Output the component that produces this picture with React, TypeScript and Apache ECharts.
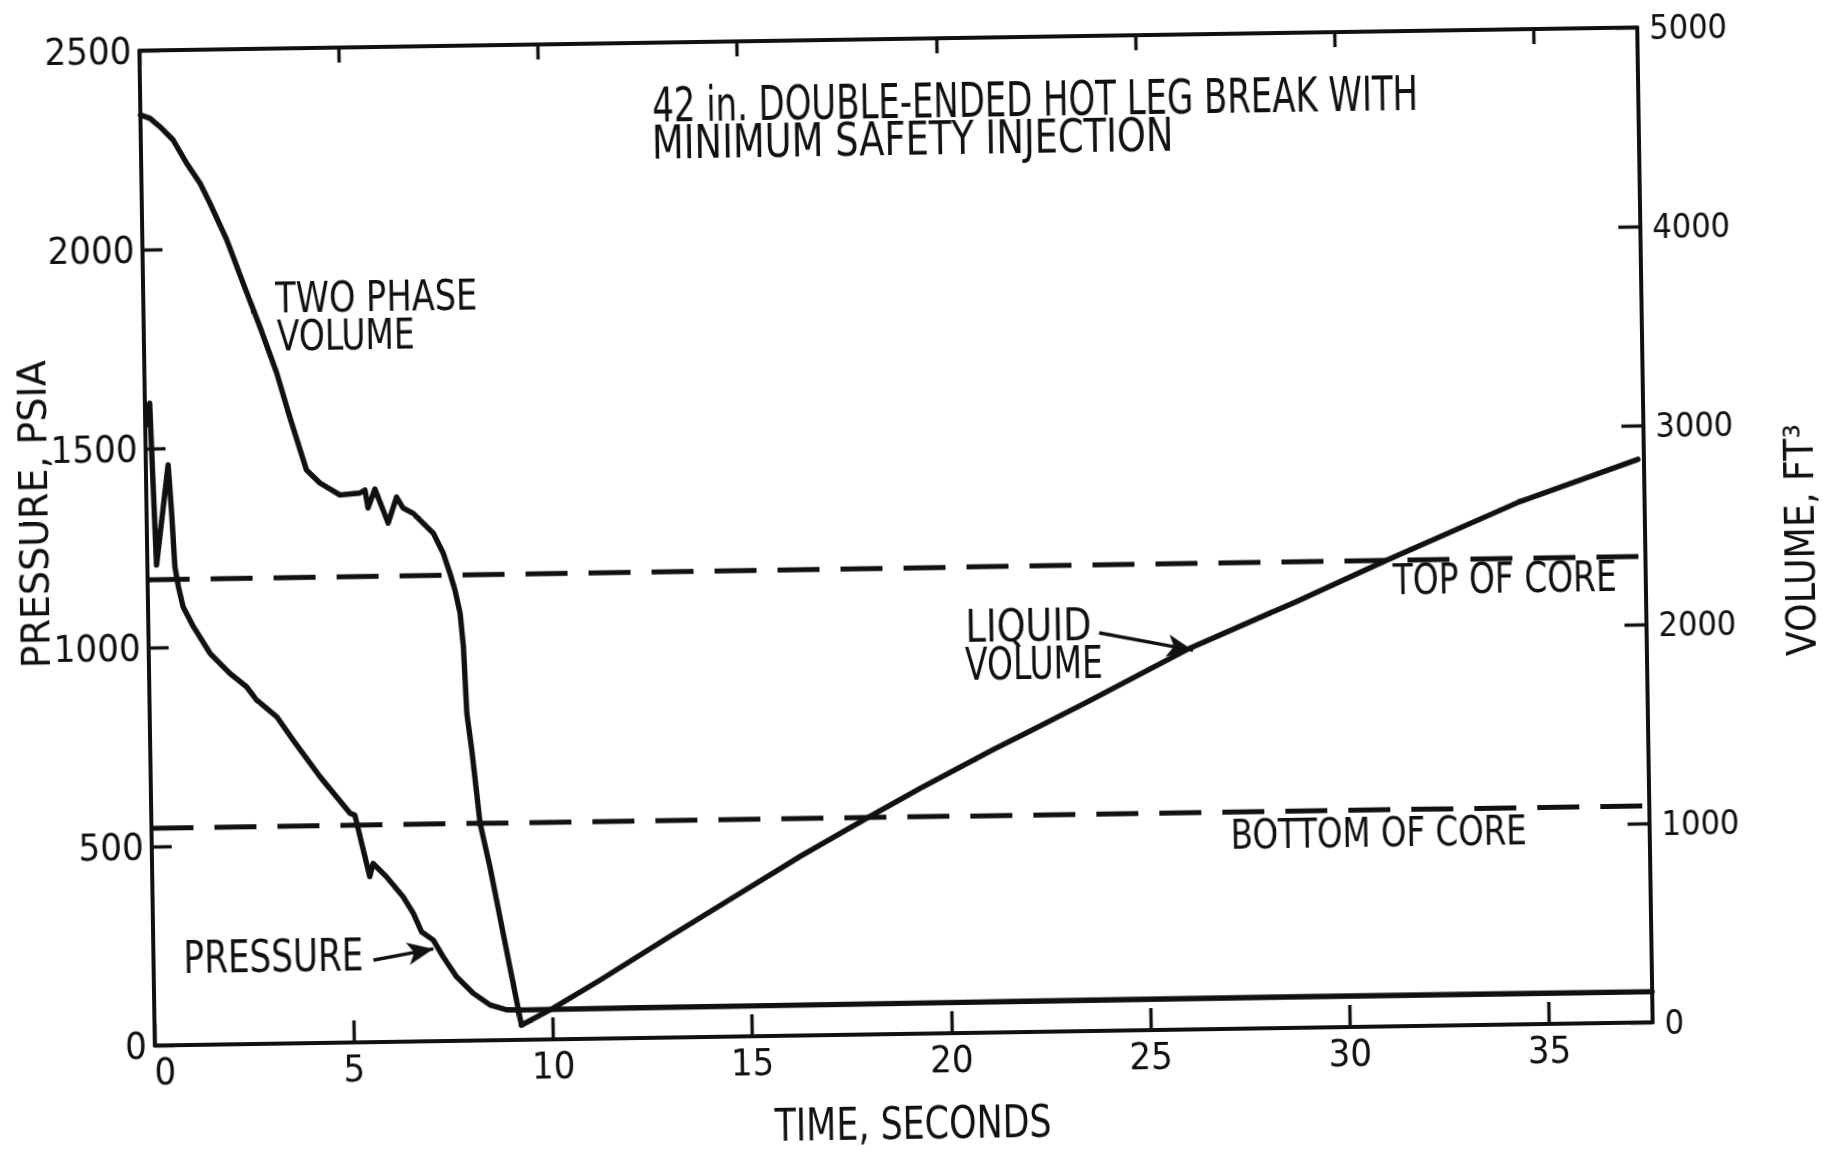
import React, { useEffect, useRef } from "react";
import * as echarts from "echarts";

const INK = "#111";
const FONT = "'DejaVu Sans Condensed', 'Liberation Sans Narrow', 'DejaVu Sans', sans-serif";
const TICK_FONT = "'Liberation Sans Narrow', 'DejaVu Sans Condensed', 'DejaVu Sans', sans-serif";

// axes
const TIME_MIN = 0;
const TIME_MAX = 37.6;
const TIME_TICKS = [0, 5, 10, 15, 20, 25, 30, 35];
const PRESSURE_MAX = 2500;
const PRESSURE_STEP = 500;
const VOLUME_MAX = 5000;
const VOLUME_STEP = 1000;

// pressure, psia (left axis)
const PRESSURE_T = [0.04, 0.12, 0.23, 0.56, 0.63, 0.69, 0.77, 0.88, 1.13, 1.54, 2.03, 2.44, 2.69, 3.19, 3.59, 4.25, 4.99, 5.11, 5.46, 5.55, 5.88, 6.29, 6.54, 6.74, 7.03, 7.27, 7.6, 8.01, 8.43, 8.84, 9.26, 12, 20, 28.8, 37.6];
const PRESSURE_PSIA = [1560, 1614, 1207, 1458, 1336, 1202, 1152, 1101, 1051, 983, 932, 898, 864, 821, 762, 669, 576, 571, 416, 449, 415, 364, 322, 275, 254, 212, 161, 119, 89, 76, 75, 76, 77, 78, 77];

// two phase volume, ft3 (right axis)
const TWO_PHASE_T = [0, 0.24, 0.48, 0.81, 1.14, 1.47, 1.71, 2.12, 2.51, 2.92, 3.32, 3.63, 4.03, 4.36, 4.86, 5.36, 5.49, 5.56, 5.74, 6.06, 6.28, 6.44, 6.69, 7.19, 7.43, 7.59, 7.71, 7.83, 7.9, 7.96, 8.07, 8.25, 8.48, 8.71, 8.94, 9.21];
const TWO_PHASE_FT3 = [4677, 4659, 4617, 4549, 4431, 4329, 4228, 4042, 3825, 3602, 3370, 3148, 2880, 2814, 2752, 2760, 2775, 2684, 2779, 2607, 2737, 2681, 2654, 2552, 2451, 2350, 2265, 2148, 1980, 1645, 1460, 1091, 872, 620, 368, 74];

// liquid volume, ft3 (right axis)
const LIQUID_T = [9.21, 10.01, 11.2, 12.89, 14.58, 16.27, 17.95, 19.3, 21.14, 23.5, 26.12, 28.8, 31.08, 34.45, 37.45];
const LIQUID_FT3 = [74, 156, 294, 499, 700, 900, 1086, 1232, 1420, 1650, 1915, 2140, 2340, 2625, 2830];

// reference levels, ft3
const CORE_T = [0, 37.6];
const TOP_OF_CORE_FT3 = [2340, 2342];
const BOTTOM_OF_CORE_FT3 = [1092, 1088];

// annotation arrows (data coordinates: [time, value])
const PRESSURE_ARROW = [[5.52, 206], [7.03, 232]];
const LIQUID_ARROW = [[23.86, 2000], [26.21, 1905]];

// the scanned original sits slightly tilted on the page
const PAGE_TILT_DEG = -0.888;

const pairs = (xs: number[], ys: number[]) => xs.map((x, i) => [x, ys[i]]);

let measureCtx: CanvasRenderingContext2D | null = null;
function measure(text: string, size: number): number {
  if (!measureCtx) measureCtx = document.createElement("canvas").getContext("2d");
  if (!measureCtx) return text.length * size * 0.55;
  measureCtx.font = `${size}px ${FONT}`;
  return measureCtx.measureText(text).width;
}

function label(text: string, x: number, y: number, capH: number, width: number, align = "left", rotation = 0) {
  const size = capH / 0.73;
  const w = measure(text, size);
  const sx = w > 0 ? width / w : 1;
  return {
    type: "text",
    x,
    y,
    rotation,
    scaleX: sx,
    silent: true,
    style: {
      text,
      fontSize: size,
      fontFamily: FONT,
      fill: INK,
      align,
      textAlign: align,
      verticalAlign: "middle",
      textVerticalAlign: "middle",
    },
  };
}

const lineSeries = (name: string, data: number[][], yAxisIndex: number, extra: any = {}) => ({
  name,
  type: "line",
  xAxisIndex: 0,
  yAxisIndex,
  data,
  symbol: "none",
  showSymbol: false,
  silent: true,
  lineStyle: { color: INK, width: 5.4, cap: "round", join: "round" },
  ...extra,
});

const arrowMark = (pts: number[][]) => ({
  silent: true,
  symbol: ["none", "arrow"],
  symbolSize: [17, 26],
  itemStyle: { color: INK },
  lineStyle: { color: INK, width: 3.4, type: "solid" },
  label: { show: false },
  data: [[{ coord: pts[0] }, { coord: pts[1] }]],
});

export default function App() {
  const ref = useRef<HTMLDivElement>(null);
  useEffect(() => {
    const el = ref.current;
    if (!el) return;
    const chart = echarts.init(el, null, { renderer: "svg" });
    const tickText = (size: number) => ({ fontSize: size, fontFamily: TICK_FONT, color: INK });
    const axisLine = { show: true, onZero: false, lineStyle: { color: INK, width: 4 } };
    const option: any = {
      animation: false,
      backgroundColor: "#fff",
      grid: { left: 147, right: 187, top: 39, bottom: 121, containLabel: false },
      xAxis: [
        {
          type: "value",
          position: "bottom",
          min: TIME_MIN,
          max: TIME_MAX,
          axisLine,
          axisTick: { show: true, inside: true, length: 22, customValues: TIME_TICKS, lineStyle: { color: INK, width: 3.4 } },
          axisLabel: {
            ...tickText(38),
            margin: 7,
            customValues: TIME_TICKS,
            formatter: (v: number) => (v === 0 ? "{z|0}" : String(v)),
            rich: { z: { ...tickText(38), padding: [0, 0, 0, 20] } },
          },
          splitLine: { show: false },
        },
        {
          type: "value",
          position: "top",
          min: TIME_MIN,
          max: TIME_MAX,
          axisLine,
          axisTick: { show: true, inside: true, length: 15, customValues: TIME_TICKS, lineStyle: { color: INK, width: 3.4 } },
          axisLabel: { show: false },
          splitLine: { show: false },
        },
      ],
      yAxis: [
        {
          type: "value",
          position: "left",
          min: 0,
          max: PRESSURE_MAX,
          interval: PRESSURE_STEP,
          axisLine,
          axisTick: { show: true, inside: true, length: 20, lineStyle: { color: INK, width: 3.4 } },
          axisLabel: { ...tickText(38), margin: 8, formatter: (v: number) => String(v) },
          splitLine: { show: false },
        },
        {
          type: "value",
          position: "right",
          min: 0,
          max: VOLUME_MAX,
          interval: VOLUME_STEP,
          axisLine,
          axisTick: { show: true, inside: true, length: 22, lineStyle: { color: INK, width: 3.4 } },
          axisLabel: { ...tickText(34), margin: 12, padding: [0, 0, 14, 0], formatter: (v: number) => String(v) },
          splitLine: { show: false },
        },
      ],
      series: [
        lineSeries("Pressure", pairs(PRESSURE_T, PRESSURE_PSIA), 0, { markLine: arrowMark(PRESSURE_ARROW) }),
        lineSeries("Two phase volume", pairs(TWO_PHASE_T, TWO_PHASE_FT3), 1),
        lineSeries("Liquid volume", pairs(LIQUID_T, LIQUID_FT3), 1, { markLine: arrowMark(LIQUID_ARROW) }),
        lineSeries("Top of core", pairs(CORE_T, TOP_OF_CORE_FT3), 1, {
          lineStyle: { color: INK, width: 5, type: [42, 21], cap: "butt" },
        }),
        lineSeries("Bottom of core", pairs(CORE_T, BOTTOM_OF_CORE_FT3), 1, {
          lineStyle: { color: INK, width: 5, type: [42, 21], cap: "butt" },
        }),
      ],
      graphic: {
        elements: [
          label("42 in. DOUBLE-ENDED HOT LEG BREAK WITH", 659, 101, 35, 766),
          label("MINIMUM SAFETY INJECTION", 658, 139, 34, 522),
          label("TWO PHASE", 279, 288, 31, 202),
          label("VOLUME", 280, 326, 31, 138),
          label("PRESSURE", 177, 947, 32, 180),
          label("LIQUID", 964, 628, 32, 126),
          label("VOLUME", 963, 666, 32, 138),
          label("TOP OF CORE", 1392, 587, 31, 224),
          label("BOTTOM OF CORE", 1226, 840, 30, 296),
          label("TIME, SECONDS", 904, 1124, 32, 277, "center"),
          label("PRESSURE, PSIA", 35, 501, 28, 308, "center", Math.PI / 2),
          label("VOLUME, FT³", 1800, 554, 30, 232, "center", Math.PI / 2),
        ],
      },
    };
    chart.setOption(option);
    return () => chart.dispose();
  }, []);
  return (
    <div
      ref={ref}
      style={{
        position: "fixed",
        left: 0,
        top: 0,
        width: 1832,
        height: 1155,
        background: "#fff",
        transform: `rotate(${PAGE_TILT_DEG}deg)`,
        transformOrigin: "895px 535px",
      }}
    />
  );
}
